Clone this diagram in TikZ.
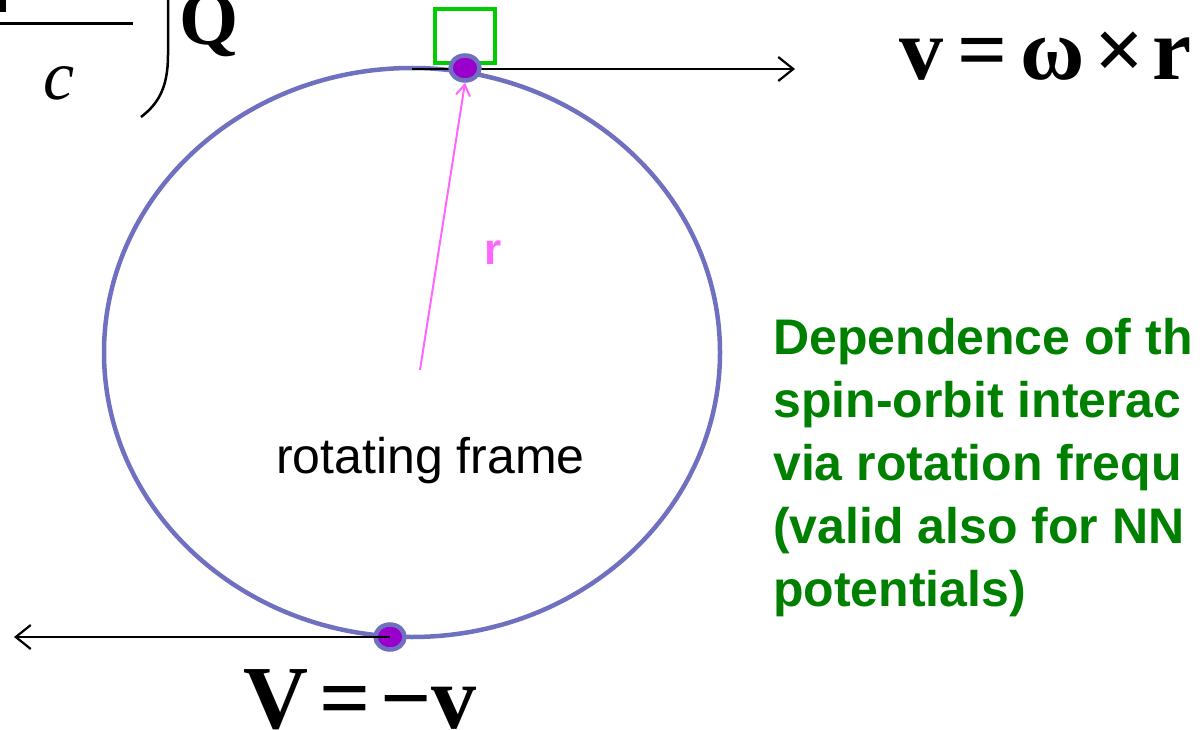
\documentclass[tikz,border=0pt]{standalone}
\usepackage{fontspec}
\setmainfont{Liberation Serif}
\setsansfont{Liberation Sans}
\usetikzlibrary{arrows.meta,shapes.geometric}
\definecolor{orbit}{HTML}{7070C0}
\definecolor{purp}{HTML}{9900CC}
\definecolor{sqgreen}{HTML}{00CC00}
\definecolor{txtgreen}{HTML}{008000}
\definecolor{rpink}{HTML}{FF66FF}
\tikzset{
  particle/.style={shape=ellipse, fill=purp, draw=orbit, line width=4.5pt, minimum width=29pt, minimum height=25pt, inner sep=0pt},
  vel/.style={line width=2.2pt, -{Straight Barb[length=15pt,width=24pt]}},
  rvec/.style={rpink, line width=2pt, -{Straight Barb[length=11pt,width=14pt]}},
  bigmath/.style={font=\fontsize{88}{88}\selectfont\bfseries, inner sep=0pt, anchor=base west},
}
\begin{document}
\begin{tikzpicture}[x=1pt,y=-1pt]
\clip (0,0) rectangle (1202,730);
% top-left formula fragment
\fill (0,0) rectangle (6,12);
\draw[line width=3pt] (0,24) -- (133,24);
\node[font=\fontsize{70}{70}\selectfont\itshape, inner sep=0pt, anchor=base west] (cden) at (43,100) {c};
\draw[line width=2.5pt] (168,0) -- (168,55) .. controls (168,88) and (158,104) .. (141,117);
\node[font=\fontsize{76}{76}\selectfont\bfseries, inner sep=0pt, anchor=base west] (qq) at (179,45) {Q};
% orbit
\draw[orbit, line width=4.5pt] (412,352.5) ellipse [x radius=308, y radius=284.5];
% green square
\node[draw=sqgreen, line width=4pt, minimum width=60pt, minimum height=54pt, inner sep=0pt] (box) at (465,36) {};
% velocity arrows
\coordinate (vstart) at (412,69);
\coordinate (vend) at (795,69);
\draw[vel] (vstart) -- (vend);
\node[particle] (p1) at (465,68) {};
\node[particle] (p2) at (390,637) {};
\coordinate (Vend) at (14,637);
\draw[vel] (p2.center) -- (Vend);
% radius vector
\coordinate (rbase) at (420,370);
\draw[rvec] (rbase) -- (p1.south);
\node[font=\fontsize{44}{44}\selectfont\sffamily\bfseries, text=rpink, inner sep=0pt, anchor=base west] (rlab) at (484,265) {r};
% labels
\node[font=\fontsize{50}{50}\selectfont\sffamily, inner sep=0pt, anchor=base west] (frame) at (276,473) {rotating frame};
\node[bigmath] (veq) at (899,80) {v\hspace{14pt}=\hspace{13pt}ω\hspace{10pt}×\hspace{8pt}r};
\node[bigmath, font=\fontsize{90}{90}\selectfont\bfseries] (Veq) at (243,728) {V\hspace{11pt}=\hspace{10pt}−\hspace{0pt}v};
\node[font=\fontsize{50}{63}\selectfont\sffamily\bfseries, text=txtgreen, align=left, inner sep=0pt, anchor=north west] (desc) at (773,318) {Dependence of th\\spin-orbit interac\\via rotation frequ\\(valid also for NN\\potentials)};
\end{tikzpicture}
\end{document}
